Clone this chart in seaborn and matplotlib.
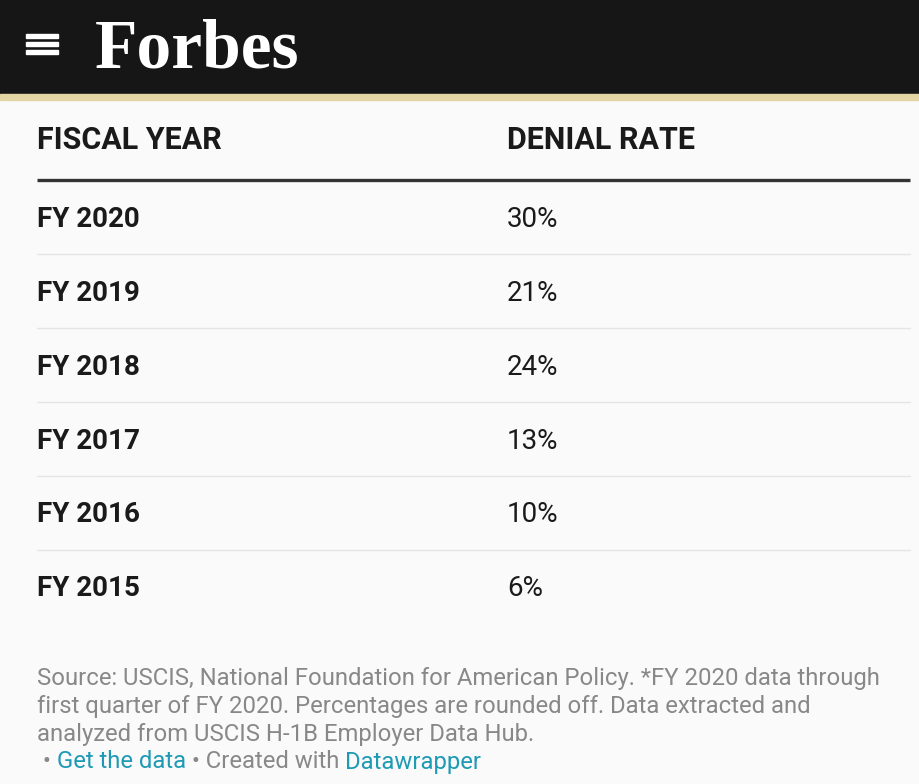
import matplotlib
matplotlib.use("Agg")
import matplotlib.pyplot as plt
import seaborn as sns
from matplotlib.patches import Rectangle

# table data
years = ["FY 2020", "FY 2019", "FY 2018", "FY 2017", "FY 2016", "FY 2015"]
denial_rates = [30, 21, 24, 13, 10, 6]
col_headers = ["FISCAL YEAR", "DENIAL RATE"]
notes = [
    "Source: USCIS, National Foundation for American Policy. *FY 2020 data through",
    "first quarter of FY 2020. Percentages are rounded off. Data extracted and",
    "analyzed from USCIS H-1B Employer Data Hub.",
]

sns.set_theme(style="white")
plt.rcParams["font.family"] = ["Roboto", "DejaVu Sans"]

W, H = 920, 784
bg = "#fafafb"
fig = plt.figure(figsize=(W / 100, H / 100), dpi=100, facecolor=bg)
ax = fig.add_axes([0, 0, 1, 1])
ax.set_xlim(0, W)
ax.set_ylim(H, 0)
ax.axis("off")
ax.set_facecolor(bg)

# Forbes header bar
ax.add_patch(Rectangle((0, 0), W, 94, color="#161616", zorder=1))
ax.add_patch(Rectangle((0, 94), W, 6, color="#e3d6a3", zorder=1))
for yb in [36, 44, 52]:
    ax.add_patch(Rectangle((26, yb - 2), 32, 4, color="white", zorder=2))
ax.text(95, 67, "Forbes", color="white", fontsize=50, fontweight="bold",
        family="Liberation Serif", va="baseline", ha="left", zorder=3)

x_col1, x_col2 = 37, 507
dark = "#1a1a1a"

# column headers
ax.text(x_col1, 140, col_headers[0], fontsize=22, fontweight="bold", color=dark, va="center")
ax.text(x_col2, 140, col_headers[1], fontsize=22, fontweight="bold", color=dark, va="center")
ax.plot([x_col1, 910], [180, 180], color="#333333", lw=2.4, solid_capstyle="butt")

# rows
row0, row_h = 219, 74
for i, (yr, rate) in enumerate(zip(years, denial_rates)):
    yc = row0 + i * row_h
    ax.text(x_col1, yc, yr, fontsize=20, fontweight="bold", color=dark, va="center")
    ax.text(x_col2, yc, f"{rate}%", fontsize=20, color=dark, va="center")
    if i < len(years) - 1:
        ax.plot([x_col1, 910], [yc + 35, yc + 35], color="#e5e5e5", lw=1)

# footer notes
grey = "#888888"
link = "#1f9ab4"
fs = 17.2
for j, line in enumerate(notes):
    ax.text(x_col1, 678 + j * 28, line, fontsize=fs, color=grey, va="center")

renderer = fig.canvas.get_renderer()
parts = [(" \u2022 ", grey), ("Get the data", link), (" \u2022 Created with ", grey), ("Datawrapper", link)]
x = x_col1
for txt, c in parts:
    t = ax.text(x, 762, txt, fontsize=fs, color=c, va="center")
    bb = t.get_window_extent(renderer=renderer)
    x += bb.width

fig.savefig("out.png", dpi=100, facecolor=bg)
